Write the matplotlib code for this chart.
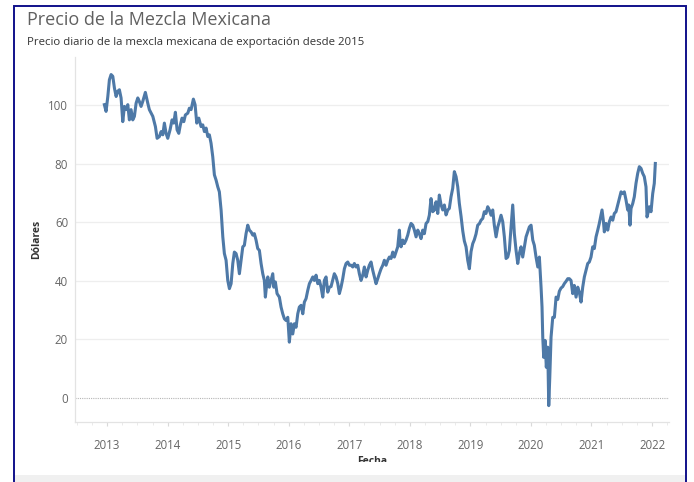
import matplotlib
matplotlib.use("Agg")
import matplotlib.pyplot as plt
from matplotlib.patches import Rectangle
from matplotlib.ticker import MultipleLocator

# fecha (año decimal) y precio en dólares
fechas = [
    2012.955, 2012.983, 2013.012, 2013.038, 2013.066, 2013.094, 2013.121, 2013.149, 2013.177, 2013.203,
    2013.231, 2013.259, 2013.286, 2013.314, 2013.342, 2013.368, 2013.396, 2013.424, 2013.451, 2013.479,
    2013.507, 2013.533, 2013.561, 2013.589, 2013.632, 2013.672, 2013.698, 2013.755, 2013.798, 2013.826,
    2013.864, 2013.892, 2013.920, 2013.946, 2013.974, 2014.002, 2014.040, 2014.073, 2014.101, 2014.128,
    2014.156, 2014.184, 2014.210, 2014.238, 2014.267, 2014.293, 2014.333, 2014.359, 2014.387, 2014.425,
    2014.453, 2014.481, 2014.514, 2014.552, 2014.580, 2014.607, 2014.635, 2014.663, 2014.689, 2014.717,
    2014.745, 2014.772, 2014.800, 2014.828, 2014.854, 2014.883, 2014.911, 2014.937, 2014.965, 2014.993,
    2015.020, 2015.048, 2015.076, 2015.102, 2015.130, 2015.158, 2015.185, 2015.213, 2015.241, 2015.267,
    2015.295, 2015.323, 2015.350, 2015.378, 2015.406, 2015.432, 2015.460, 2015.488, 2015.515, 2015.543,
    2015.571, 2015.597, 2015.614, 2015.637, 2015.654, 2015.680, 2015.708, 2015.736, 2015.753, 2015.779,
    2015.807, 2015.845, 2015.873, 2015.901, 2015.928, 2015.956, 2015.984, 2016.010, 2016.038, 2016.066,
    2016.093, 2016.121, 2016.149, 2016.175, 2016.204, 2016.232, 2016.258, 2016.286, 2016.314, 2016.341,
    2016.369, 2016.397, 2016.423, 2016.451, 2016.479, 2016.506, 2016.534, 2016.562, 2016.588, 2016.616,
    2016.644, 2016.671, 2016.699, 2016.753, 2016.781, 2016.810, 2016.836, 2016.864, 2016.892, 2016.919,
    2016.947, 2016.975, 2017.001, 2017.029, 2017.057, 2017.084, 2017.112, 2017.140, 2017.166, 2017.194,
    2017.222, 2017.249, 2017.277, 2017.305, 2017.331, 2017.359, 2017.387, 2017.414, 2017.442, 2017.470,
    2017.496, 2017.525, 2017.553, 2017.579, 2017.607, 2017.635, 2017.662, 2017.690, 2017.718, 2017.744,
    2017.772, 2017.800, 2017.827, 2017.838, 2017.855, 2017.883, 2017.909, 2017.937, 2017.965, 2017.992,
    2018.020, 2018.048, 2018.075, 2018.103, 2018.131, 2018.157, 2018.185, 2018.213, 2018.240, 2018.268,
    2018.296, 2018.322, 2018.350, 2018.378, 2018.405, 2018.433, 2018.461, 2018.487, 2018.515, 2018.543,
    2018.570, 2018.598, 2018.626, 2018.652, 2018.680, 2018.708, 2018.735, 2018.763, 2018.791, 2018.817,
    2018.846, 2018.874, 2018.900, 2018.928, 2018.956, 2018.983, 2019.011, 2019.039, 2019.065, 2019.093,
    2019.121, 2019.148, 2019.176, 2019.204, 2019.230, 2019.258, 2019.286, 2019.313, 2019.341, 2019.369,
    2019.395, 2019.424, 2019.452, 2019.478, 2019.506, 2019.534, 2019.561, 2019.589, 2019.617, 2019.643,
    2019.671, 2019.699, 2019.726, 2019.754, 2019.782, 2019.808, 2019.836, 2019.864, 2019.891, 2019.919,
    2019.947, 2019.974, 2020.002, 2020.030, 2020.056, 2020.084, 2020.113, 2020.139, 2020.167, 2020.183,
    2020.195, 2020.211, 2020.233, 2020.254, 2020.277, 2020.294, 2020.311, 2020.332, 2020.360, 2020.387,
    2020.415, 2020.443, 2020.469, 2020.497, 2020.525, 2020.551, 2020.580, 2020.608, 2020.634, 2020.662,
    2020.690, 2020.716, 2020.745, 2020.773, 2020.799, 2020.827, 2020.855, 2020.882, 2020.910, 2020.938,
    2020.964, 2020.992, 2021.020, 2021.047, 2021.075, 2021.103, 2021.129, 2021.157, 2021.174, 2021.195,
    2021.212, 2021.240, 2021.268, 2021.295, 2021.323, 2021.351, 2021.377, 2021.405, 2021.433, 2021.460,
    2021.488, 2021.516, 2021.542, 2021.570, 2021.598, 2021.615, 2021.636, 2021.653, 2021.681, 2021.707,
    2021.735, 2021.763, 2021.790, 2021.818, 2021.846, 2021.872, 2021.900, 2021.917, 2021.938, 2021.955,
    2021.983, 2022.011, 2022.037, 2022.054,
]
precios = [
    100.2, 97.9, 103.0, 108.7, 110.5, 109.9, 105.9, 103.0, 104.8, 105.3,
    102.5, 94.4, 99.6, 98.5, 100.2, 95.0, 98.5, 95.0, 96.2, 100.7,
    102.5, 101.3, 99.6, 101.3, 104.4, 100.7, 98.5, 96.2, 92.7, 88.7,
    89.3, 91.0, 89.9, 93.9, 90.4, 88.7, 91.6, 95.0, 93.9, 97.6,
    91.6, 90.4, 93.3, 95.6, 94.4, 96.7, 97.3, 99.0, 98.5, 102.1,
    100.2, 93.9, 95.6, 92.7, 93.3, 91.0, 92.2, 89.3, 89.9, 87.0,
    82.4, 76.2, 74.4, 72.1, 70.4, 64.1, 55.0, 49.3, 47.0, 40.1,
    37.3, 39.0, 45.9, 49.8, 49.3, 47.0, 42.4, 47.0, 51.6, 52.1,
    56.1, 59.0, 57.3, 56.7, 55.6, 56.1, 53.9, 51.0, 50.4, 45.9,
    42.4, 40.1, 34.4, 39.0, 41.3, 37.8, 40.1, 42.4, 37.8, 39.6,
    35.6, 34.4, 31.0, 28.7, 27.0, 26.4, 27.5, 19.0, 25.3, 21.8,
    25.3, 24.1, 28.7, 31.0, 31.6, 28.7, 32.7, 33.9, 36.7, 39.0,
    40.1, 41.3, 40.1, 41.9, 39.0, 40.1, 37.8, 34.4, 40.1, 41.3,
    36.1, 37.8, 38.0, 42.4, 41.3, 39.0, 35.6, 37.8, 40.7, 44.1,
    45.9, 46.4, 45.3, 45.3, 44.7, 45.9, 44.7, 45.3, 42.4, 40.1,
    41.9, 44.7, 41.3, 43.6, 45.3, 46.4, 43.6, 41.3, 39.0, 40.7,
    42.4, 44.1, 45.3, 47.0, 45.3, 47.0, 48.1, 47.6, 49.8, 48.1,
    49.8, 51.6, 57.3, 53.3, 51.6, 53.9, 52.7, 53.9, 55.6, 57.9,
    59.6, 59.0, 57.3, 55.0, 57.3, 56.1, 54.4, 57.3, 56.1, 59.6,
    60.2, 62.4, 68.1, 63.6, 64.2, 67.0, 63.0, 69.3, 66.0, 64.2,
    65.9, 62.5, 64.2, 64.7, 68.7, 71.6, 77.3, 75.6, 72.1, 66.5,
    62.0, 57.0, 53.6, 51.6, 47.0, 44.1, 50.0, 52.7, 54.0, 56.0,
    59.0, 59.5, 60.7, 61.3, 63.6, 63.0, 65.3, 64.2, 62.4, 64.2,
    59.0, 55.0, 58.4, 60.2, 62.4, 60.2, 55.0, 47.6, 48.1, 50.4,
    58.4, 65.9, 56.1, 50.4, 45.9, 49.3, 51.6, 48.1, 51.6, 55.0,
    56.7, 58.4, 59.0, 53.9, 52.1, 48.1, 44.7, 48.1, 37.8, 31.0,
    20.7, 13.8, 19.6, 10.4, 17.3, -2.7, 7.0, 20.7, 27.5, 27.5,
    34.4, 33.6, 36.4, 37.5, 38.0, 39.0, 39.8, 40.7, 40.7, 40.1,
    35.6, 38.4, 34.4, 37.8, 36.1, 32.7, 37.8, 41.3, 43.6, 45.9,
    46.4, 48.1, 51.6, 51.0, 55.0, 57.3, 59.6, 62.4, 64.2, 60.7,
    56.7, 59.6, 57.3, 60.2, 61.8, 60.7, 63.0, 63.6, 65.9, 68.1,
    70.4, 69.8, 70.4, 67.6, 64.2, 65.9, 59.0, 64.7, 66.4, 68.7,
    73.3, 76.7, 79.0, 78.4, 76.7, 75.6, 72.1, 61.8, 63.6, 65.3,
    63.6, 69.8, 73.3, 80.1,
]
anios = list(range(2013, 2023))
y_ticks = [0, 20, 40, 60, 80, 100]

fig = plt.figure(figsize=(6.94, 4.82), dpi=100)
fig.patch.set_facecolor("white")

ax = fig.add_axes([75 / 694, 60 / 482, 594 / 694, 365 / 482])
ax.plot(fechas, precios, color="#4e79a7", linewidth=2.2, solid_joinstyle="round", zorder=3)

ax.set_xlim(2012.47, 2022.28)
ax.set_ylim(-8.3, 116.5)

ax.set_xticks(anios)
ax.set_xticklabels([str(a) for a in anios])
ax.xaxis.set_minor_locator(MultipleLocator(0.25))
ax.set_yticks(y_ticks)
ax.set_yticklabels([str(v) for v in y_ticks])

ax.tick_params(axis="x", which="major", length=3, color="#d9d9d9", labelsize=8.3,
               labelcolor="#666666", pad=9)
ax.tick_params(axis="x", which="minor", length=2, color="#e6e6e6")
ax.tick_params(axis="y", length=0, labelsize=8.3, labelcolor="#666666", pad=5)

for v in y_ticks:
    if v == 0:
        ax.axhline(v, color="#b5b5b5", linewidth=0.8, linestyle=(0, (1, 1)), zorder=1)
    else:
        ax.axhline(v, color="#eeeeee", linewidth=0.9, zorder=1)

for s in ["top", "right"]:
    ax.spines[s].set_visible(False)
for s in ["left", "bottom"]:
    ax.spines[s].set_color("#e3e3e3")
    ax.spines[s].set_linewidth(0.9)

ax.set_ylabel("Dólares", fontsize=7.5, color="#333333", fontweight="bold", labelpad=4)
ax.set_xlabel("Fecha", fontsize=7.5, color="#333333", fontweight="bold", labelpad=3)

for lbl in ax.get_xticklabels() + ax.get_yticklabels():
    lbl.set_family("Open Sans")
ax.yaxis.label.set_family("Open Sans")
ax.xaxis.label.set_family("Open Sans")

fig.text(27 / 694, 1 - 20 / 482, "Precio de la Mezcla Mexicana", fontsize=13,
         color="#606060", family="Open Sans", va="center", ha="left")
fig.text(27 / 694, 1 - 43 / 482, "Precio diario de la mexcla mexicana de exportación desde 2015",
         fontsize=8.2, color="#333333", family="Open Sans", va="center", ha="left")

# recorte blanco bajo la vista, barra gris inferior y marco azul
fig.add_artist(Rectangle((13 / 694, 7 / 482), 673 / 694, 13 / 482, transform=fig.transFigure,
                         facecolor="white", edgecolor="none", zorder=9))
fig.add_artist(Rectangle((13 / 694, 0), 673 / 694, 7 / 482, transform=fig.transFigure,
                         facecolor="#f0f0f0", edgecolor="none", zorder=10))
fig.add_artist(Rectangle((13.5 / 694, -0.05), 672.5 / 694, 1 - 5.5 / 482 + 0.05,
                         transform=fig.transFigure, facecolor="none",
                         edgecolor="#11118a", linewidth=1.4, zorder=11))

fig.savefig("out.png", dpi=100)
